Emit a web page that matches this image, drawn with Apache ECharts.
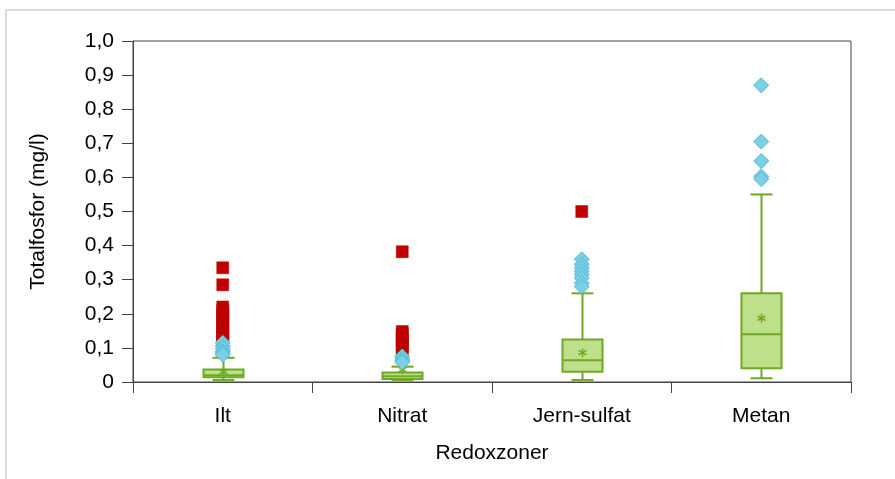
<!DOCTYPE html>
<html>
<head>
<meta charset="utf-8">
<script src="https://cdn.jsdelivr.net/npm/echarts@6/dist/echarts.min.js"></script>
<style>
html,body{margin:0;padding:0;background:#fff;}
#chart{width:895px;height:479px;}
</style>
</head>
<body>
<div id="chart"></div>
<script>
// ---- data ----
var categories = ['Ilt', 'Nitrat', 'Jern-sulfat', 'Metan'];
var whiskerLow  = [0.006, 0.006, 0.006, 0.011];
var q1          = [0.014, 0.009, 0.030, 0.040];
var median      = [0.020, 0.017, 0.064, 0.140];
var q3          = [0.037, 0.028, 0.125, 0.260];
var whiskerHigh = [0.071, 0.045, 0.260, 0.550];
var means       = [0.030, 0.036, 0.086, 0.187];

// mild outliers (diamonds)
var mildIlt    = [0.115, 0.105, 0.098, 0.090, 0.085, 0.080];
var mildNitrat = [0.075, 0.068, 0.062, 0.058];
var mildJern   = [0.360, 0.345, 0.335, 0.325, 0.315, 0.305, 0.290, 0.280];
var mildMetan  = [0.870, 0.705, 0.648, 0.603, 0.595];

// extreme outliers (squares)
var extIlt    = [0.335, 0.285, 0.220, 0.210, 0.200, 0.190, 0.180, 0.170, 0.160, 0.150, 0.140, 0.130, 0.120];
var extNitrat = [0.382, 0.148, 0.140, 0.130, 0.120, 0.110, 0.100, 0.090];
var extJern   = [0.500];
var extMetan  = [];

var yTicks = ['0', '0,1', '0,2', '0,3', '0,4', '0,5', '0,6', '0,7', '0,8', '0,9', '1,0'];

// ---- build ----
function toPoints(lists) {
  var out = [];
  lists.forEach(function (arr, i) {
    arr.forEach(function (v) { out.push([i, v]); });
  });
  return out;
}
var mildPts = toPoints([mildIlt, mildNitrat, mildJern, mildMetan]);
var extPts = toPoints([extIlt, extNitrat, extJern, extMetan]);
var boxData = categories.map(function (c, i) {
  return [i, whiskerLow[i], q1[i], median[i], q3[i], whiskerHigh[i], means[i]];
});

var GREEN = '#6fa822';
var FILL = '#bfe08a';
var FS = 21;

var chart = echarts.init(document.getElementById('chart'));
chart.setOption({
  animation: false,
  textStyle: { fontFamily: 'Liberation Sans, Arial, sans-serif' },
  graphic: [{
    type: 'rect',
    shape: { x: 6, y: 10, width: 1000, height: 600 },
    style: { fill: 'none', stroke: '#dcdcdc', lineWidth: 2 },
    silent: true,
    z: -10
  }],
  grid: {
    left: 133, right: 44, top: 41, bottom: 97,
    show: true, borderColor: '#444', borderWidth: 1, backgroundColor: 'transparent'
  },
  xAxis: {
    type: 'category',
    data: categories,
    boundaryGap: true,
    name: 'Redoxzoner',
    nameLocation: 'middle',
    nameGap: 61,
    nameTextStyle: { fontSize: FS, color: '#000' },
    axisLine: { lineStyle: { color: '#444', width: 1 } },
    axisTick: { show: true, length: 11, interval: 0, alignWithLabel: false, lineStyle: { color: '#444' } },
    axisLabel: { fontSize: FS, color: '#000', margin: 24, interval: 0 },
    splitLine: { show: false }
  },
  yAxis: {
    type: 'value',
    min: 0, max: 1, interval: 0.1,
    name: 'Totalfosfor (mg/l)',
    nameLocation: 'middle',
    nameGap: 84,
    nameRotate: 90,
    nameTextStyle: { fontSize: FS, color: '#000' },
    axisLine: { show: true, lineStyle: { color: '#444', width: 1 } },
    axisTick: { show: true, length: 11, inside: false, lineStyle: { color: '#444' } },
    axisLabel: {
      fontSize: FS, color: '#000', margin: 19,
      formatter: function (v) { return yTicks[Math.round(v * 10)]; }
    },
    splitLine: { show: false }
  },
  series: [
    {
      type: 'custom',
      data: boxData,
      encode: { x: 0, y: [1, 2, 3, 4, 5] },
      z: 2,
      renderItem: function (params, api) {
        var x = api.value(0);
        var pLow = api.coord([x, api.value(1)]);
        var pQ1 = api.coord([x, api.value(2)]);
        var pMed = api.coord([x, api.value(3)]);
        var pQ3 = api.coord([x, api.value(4)]);
        var pHigh = api.coord([x, api.value(5)]);
        var pMean = api.coord([x, api.value(6)]);
        var cx = Math.round(pQ1[0]) + 0.5;
        var hw = 20, cw = 11, s = 4.5;
        var lw = { stroke: GREEN, lineWidth: 2 };
        return {
          type: 'group',
          children: [
            { type: 'line', shape: { x1: cx, y1: pHigh[1], x2: cx, y2: pQ3[1] }, style: lw },
            { type: 'line', shape: { x1: cx, y1: pQ1[1], x2: cx, y2: pLow[1] }, style: lw },
            { type: 'line', shape: { x1: cx - cw, y1: pHigh[1], x2: cx + cw, y2: pHigh[1] }, style: lw },
            { type: 'line', shape: { x1: cx - cw, y1: pLow[1], x2: cx + cw, y2: pLow[1] }, style: lw },
            { type: 'rect', shape: { x: cx - hw, y: pQ3[1], width: hw * 2, height: pQ1[1] - pQ3[1] },
              style: { fill: FILL, stroke: GREEN, lineWidth: 2 } },
            { type: 'line', shape: { x1: cx - hw, y1: pMed[1], x2: cx + hw, y2: pMed[1] }, style: lw },
            { type: 'line', shape: { x1: cx, y1: pMean[1] - s, x2: cx, y2: pMean[1] + s }, style: { stroke: GREEN, lineWidth: 1.5 } },
            { type: 'line', shape: { x1: cx - s * 0.87, y1: pMean[1] - s * 0.5, x2: cx + s * 0.87, y2: pMean[1] + s * 0.5 }, style: { stroke: GREEN, lineWidth: 1.5 } },
            { type: 'line', shape: { x1: cx - s * 0.87, y1: pMean[1] + s * 0.5, x2: cx + s * 0.87, y2: pMean[1] - s * 0.5 }, style: { stroke: GREEN, lineWidth: 1.5 } }
          ]
        };
      }
    },
    {
      type: 'scatter',
      data: extPts,
      symbol: 'rect',
      symbolSize: 12,
      z: 3,
      itemStyle: { color: '#c00000', borderColor: '#b00000', borderWidth: 0.5, opacity: 1 }
    },
    {
      type: 'scatter',
      data: mildPts,
      symbol: 'diamond',
      symbolSize: 15,
      z: 4,
      itemStyle: { color: '#7ccfe5', borderColor: '#52bbd8', borderWidth: 1, opacity: 1 }
    }
  ]
});
</script>
</body>
</html>
